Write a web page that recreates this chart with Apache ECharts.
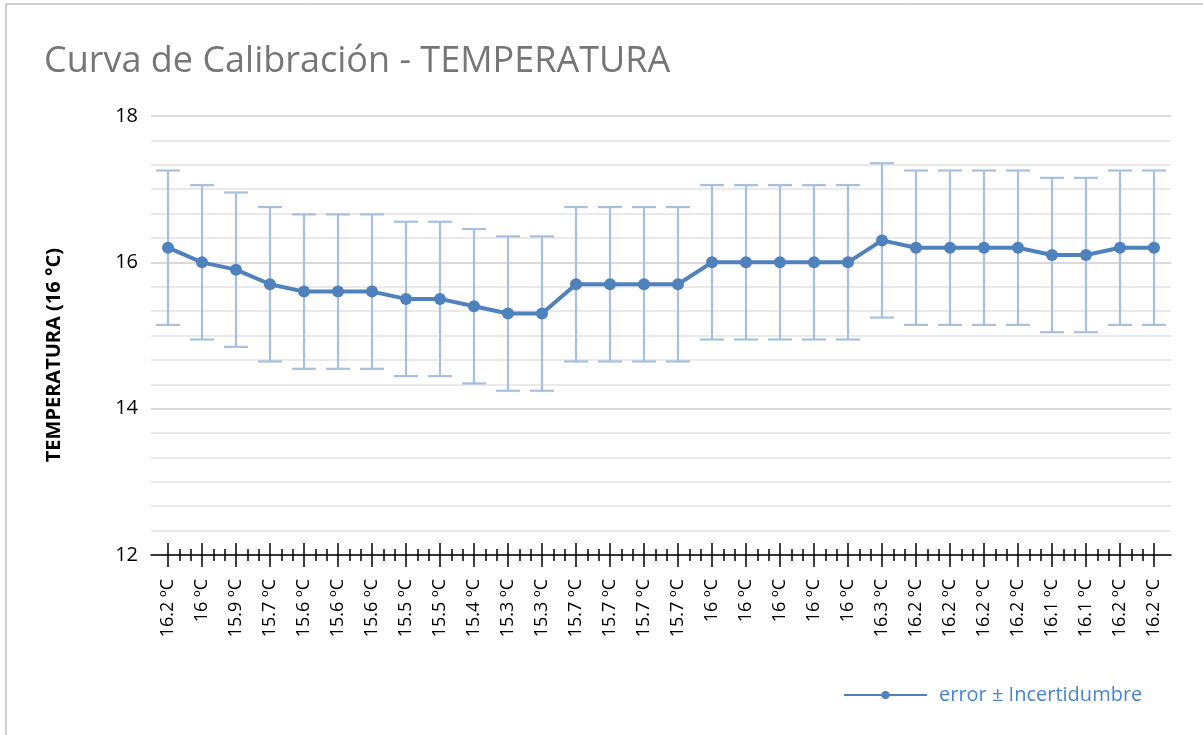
<!DOCTYPE html>
<html>
<head>
<meta charset="utf-8">
<title>Curva de Calibración - TEMPERATURA</title>
<script src="https://cdn.jsdelivr.net/npm/echarts@6/dist/echarts.min.js"></script>
<style>
  html, body { margin: 0; padding: 0; background: #fff; }
  #chart { width: 1203px; height: 735px; }
</style>
</head>
<body>
<div id="chart"></div>
<script>
// lecturas del patrón (etiquetas del eje x)
const categorias = [
  '16.2 ºC', '16 ºC', '15.9 ºC', '15.7 ºC', '15.6 ºC', '15.6 ºC', '15.6 ºC', '15.5 ºC',
  '15.5 ºC', '15.4 ºC', '15.3 ºC', '15.3 ºC', '15.7 ºC', '15.7 ºC', '15.7 ºC', '15.7 ºC',
  '16 ºC', '16 ºC', '16 ºC', '16 ºC', '16 ºC', '16.3 ºC', '16.2 ºC', '16.2 ºC',
  '16.2 ºC', '16.2 ºC', '16.1 ºC', '16.1 ºC', '16.2 ºC', '16.2 ºC'
]

// valores medidos
const valores = [
  16.2, 16, 15.9, 15.7, 15.6, 15.6, 15.6, 15.5,
  15.5, 15.4, 15.3, 15.3, 15.7, 15.7, 15.7, 15.7,
  16, 16, 16, 16, 16, 16.3, 16.2, 16.2,
  16.2, 16.2, 16.1, 16.1, 16.2, 16.2
]

// incertidumbre (±)
const incertidumbre = [
  1.055, 1.055, 1.055, 1.055, 1.055, 1.055, 1.055, 1.055,
  1.055, 1.055, 1.055, 1.055, 1.055, 1.055, 1.055, 1.055,
  1.055, 1.055, 1.055, 1.055, 1.055, 1.055, 1.055, 1.055,
  1.055, 1.055, 1.055, 1.055, 1.055, 1.055
]

const FONT = 'Open Sans'
const AZUL = '#4f81bd'
const AZUL_CLARO = '#a7c0df'

const barras = valores.map((v, i) => [i, v - incertidumbre[i], v + incertidumbre[i]])

const chart = echarts.init(document.getElementById('chart'))

// eje auxiliar solo para las marcas (mayores y menores) del eje x
const ejeMarcas = (inside) => ({
  type: 'value',
  gridIndex: 1,
  position: 'bottom',
  offset: 0,
  min: 0,
  max: categorias.length - 1,
  interval: 1,
  axisLine: { show: false },
  axisLabel: { show: false },
  splitLine: { show: false },
  axisTick: { show: true, inside: inside, length: 12, lineStyle: { color: '#000', width: 1.5 } },
  minorTick: { show: true, splitNumber: 3, length: 6, lineStyle: { color: '#000', width: 1.5 } }
})

const option = {
  animation: false,
  textStyle: { fontFamily: FONT },
  title: {
    text: 'Curva de Calibración - TEMPERATURA',
    left: 39,
    top: 39,
    textStyle: { fontFamily: FONT, fontSize: 36, fontWeight: 'normal', color: '#767676' }
  },
  legend: {
    left: 838,
    top: 680,
    itemWidth: 83,
    itemHeight: 10,
    data: ['error ± Incertidumbre'],
    textStyle: { fontFamily: FONT, fontSize: 20, color: '#4a86c7', padding: [0, 0, 0, 7] }
  },
  graphic: [
    {
      type: 'rect',
      shape: { x: 6, y: 4, width: 1400, height: 1000 },
      style: { fill: 'none', stroke: '#a0a0a0', lineWidth: 1 },
      silent: true
    },
    {
      type: 'text',
      left: 44,
      top: 248,
      rotation: Math.PI / 2,
      style: {
        text: 'TEMPERATURA (16 °C)',
        fontFamily: FONT,
        fontSize: 20,
        fontWeight: 'bold',
        fill: '#000'
      }
    }
  ],
  grid: [
    { left: 151, right: 32, top: 116, bottom: 180 },
    { left: 168, right: 49, top: 116, bottom: 180 }
  ],
  xAxis: [
    {
      type: 'category',
      gridIndex: 0,
      data: categorias,
      boundaryGap: true,
      axisLine: { lineStyle: { color: '#000', width: 1.5 } },
      axisTick: { show: false },
      axisLabel: { interval: 0, rotate: 90, margin: 24, fontFamily: FONT, fontSize: 18, color: '#000' },
      splitLine: { show: false }
    },
    ejeMarcas(false),
    ejeMarcas(true)
  ],
  yAxis: [
    {
      type: 'value',
      gridIndex: 0,
      min: 12,
      max: 18,
      interval: 2,
      axisLine: { show: false },
      axisTick: { show: false },
      axisLabel: { margin: 13, fontFamily: FONT, fontSize: 20, color: '#000' },
      splitLine: { lineStyle: { color: '#cccccc', width: 1.5 } },
      minorTick: { show: false, splitNumber: 6 },
      minorSplitLine: { show: true, lineStyle: { color: '#e4e4e4', width: 1.5 } }
    },
    { type: 'value', gridIndex: 1, min: 12, max: 18, show: false }
  ],
  series: [
    {
      name: 'incertidumbre',
      type: 'custom',
      xAxisIndex: 0,
      yAxisIndex: 0,
      z: 1,
      data: barras,
      renderItem: (params, api) => {
        const x = api.value(0)
        const bajo = api.coord([x, api.value(1)])
        const alto = api.coord([x, api.value(2)])
        const cap = 12
        const estilo = { stroke: AZUL_CLARO, lineWidth: 2.2 }
        return {
          type: 'group',
          children: [
            { type: 'line', shape: { x1: alto[0], y1: alto[1], x2: bajo[0], y2: bajo[1] }, style: estilo },
            { type: 'line', shape: { x1: alto[0] - cap, y1: alto[1], x2: alto[0] + cap, y2: alto[1] }, style: estilo },
            { type: 'line', shape: { x1: bajo[0] - cap, y1: bajo[1], x2: bajo[0] + cap, y2: bajo[1] }, style: estilo }
          ]
        }
      }
    },
    {
      name: 'error ± Incertidumbre',
      type: 'line',
      xAxisIndex: 0,
      yAxisIndex: 0,
      z: 3,
      data: valores,
      symbol: 'circle',
      symbolSize: 12,
      lineStyle: { color: AZUL, width: 4 },
      itemStyle: { color: AZUL }
    }
  ]
}

chart.setOption(option)
</script>
</body>
</html>
